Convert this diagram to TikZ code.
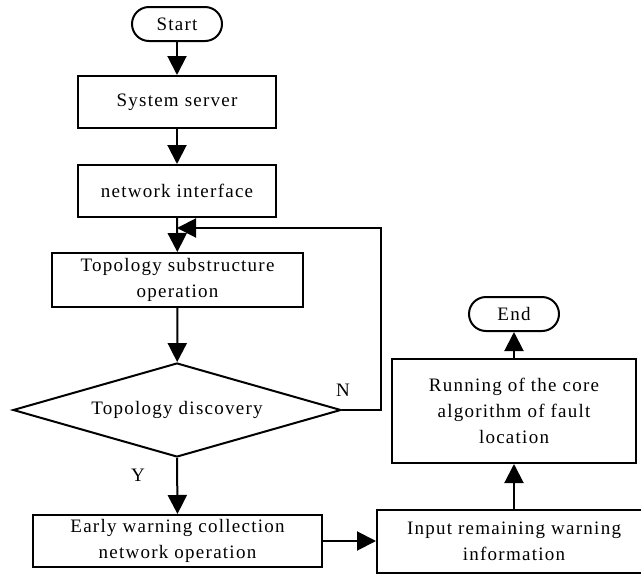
\documentclass[tikz,border=0pt]{standalone}
\usepackage{fontspec}
\setmainfont{Liberation Serif}[LetterSpace=6.6]
\usetikzlibrary{arrows.meta,shapes.geometric}
\begin{document}
\begin{tikzpicture}[x=1pt,y=-1pt,
  base/.style={draw=black, line width=2pt, font=\fontsize{19}{26}\selectfont, align=center, inner sep=0pt},
  box/.style={base, rectangle},
  term/.style={base, rectangle, rounded corners=17pt, minimum width=90pt, minimum height=34pt},
  dec/.style={base, diamond, aspect=3.49, minimum width=328pt, minimum height=94pt},
  arr/.style={line width=2pt, -{Triangle[length=19pt,width=19pt]}},
  lab/.style={font=\fontsize{19}{24}\selectfont}]
\clip (0,0) rectangle (641,574);
\fill[white] (0,0) rectangle (641,574);
\node[term] (start) at (177,24) {Start};
\node[box, minimum width=198pt, minimum height=52pt] (ss) at (177,102) {System server};
\node[box, minimum width=198pt, minimum height=52pt] (ni) at (177,191) {network interface};
\node[box, minimum width=251pt, minimum height=54pt] (topo) at (177.5,280) {Topology substructure\\operation};
\node[dec] (d) at (177,410) {Topology discovery};
\node[box, minimum width=289pt, minimum height=52pt] (ew) at (177.5,541) {Early warning collection\\network operation};
\node[box, minimum width=274pt, minimum height=63pt] (inp) at (514,541.5) {Input remaining warning\\information};
\node[box, minimum width=244pt, minimum height=104pt] (run) at (514,411) {Running of the core\\algorithm of fault\\location};
\node[term] (end) at (514,314) {End};
\coordinate (loopR) at (381,228);
\coordinate (loopL) at (177,228);
\draw[arr] (start) -- (ss);
\draw[arr] (ss) -- (ni);
\draw[arr] (ni) -- (topo);
\draw[arr] (topo) -- (d);
\draw[arr] (d.south) -- (ew.north);
\draw[arr] (d.east) -| (loopR) -- (loopL);
\draw[arr] (ew.east) -- (ew.east -| inp.west);
\draw[arr] (inp.north) -- (run.south);
\draw[arr] (run.north) -- (end.south);
\node[lab] (n) at (343,390) {N};
\node[lab] (y) at (138,475) {Y};
\end{tikzpicture}
\end{document}
